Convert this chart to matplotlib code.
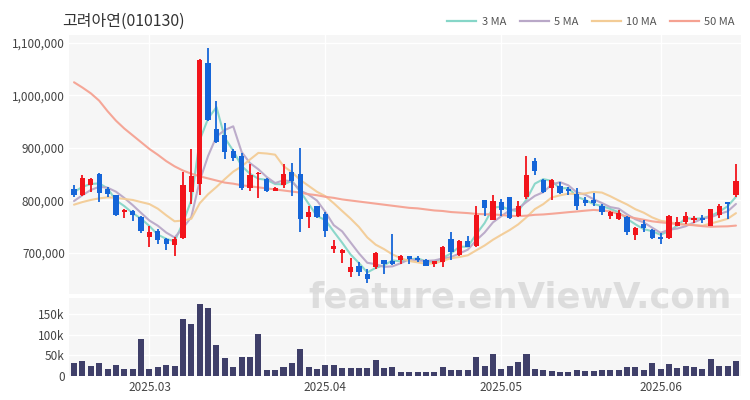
import matplotlib
matplotlib.use("Agg")
import matplotlib.pyplot as plt
import numpy as np
from matplotlib.lines import Line2D
from matplotlib.ticker import FuncFormatter

plt.rcParams['font.family'] = ['Noto Sans CJK KR', 'DejaVu Sans']

title = "고려아연(010130)"

# OHLC in thousands of KRW (one entry per trading day)
opens = [822, 811, 830, 851, 822, 810, 778, 780, 769, 730, 742, 727, 716, 729, 816, 832, 1062, 936, 925, 895,
         884, 824, 850, 840, 819, 829, 854, 850, 768, 789, 775, 707, 700, 663, 676, 660, 673, 686, 684, 686,
         694, 690, 687, 679, 683, 726, 697, 722, 713, 800, 763, 798, 806, 770, 806, 876, 839, 824, 827, 822,
         813, 800, 801, 790, 771, 765, 768, 735, 756, 744, 731, 729, 752, 759, 762, 766, 752, 773, 797, 810]
highs = [830, 848, 843, 852, 825, 811, 783, 781, 770, 752, 746, 729, 730, 854, 898, 1070, 1091, 990, 947, 898,
         890, 870, 854, 843, 826, 869, 871, 900, 790, 790, 778, 724, 708, 690, 683, 670, 701, 687, 737, 697,
         695, 695, 688, 685, 714, 740, 724, 733, 790, 801, 810, 803, 807, 799, 884, 881, 840, 841, 835, 825,
         824, 806, 814, 794, 780, 782, 770, 750, 762, 746, 738, 773, 768, 778, 771, 773, 784, 794, 797, 870]
lows = [806, 809, 816, 798, 807, 771, 766, 761, 739, 711, 717, 705, 695, 727, 794, 810, 952, 910, 879, 876,
        820, 819, 805, 816, 818, 824, 808, 740, 748, 766, 731, 700, 681, 654, 656, 642, 670, 661, 678, 679,
        680, 683, 675, 674, 674, 686, 695, 711, 712, 771, 762, 771, 765, 768, 803, 848, 814, 801, 813, 810,
        782, 789, 789, 773, 765, 763, 735, 725, 740, 727, 717, 727, 751, 756, 757, 757, 751, 767, 765, 806]
closes = [811, 842, 841, 815, 813, 773, 782, 773, 741, 740, 724, 717, 726, 830, 846, 1068, 954, 911, 892, 881,
          824, 848, 852, 818, 824, 850, 838, 764, 779, 768, 741, 713, 705, 674, 664, 651, 700, 679, 679, 694,
          689, 687, 676, 684, 712, 702, 722, 712, 773, 786, 799, 781, 767, 790, 849, 857, 816, 839, 814, 818,
          790, 795, 795, 778, 779, 776, 740, 748, 748, 729, 727, 770, 759, 770, 766, 763, 783, 790, 794, 837]
# volume in thousands of shares
volumes = [31, 36.6, 22.8, 30.9, 17, 25.2, 15.4, 15.4, 90, 15.4, 21, 25.2, 22.8, 139, 127, 174, 166, 74, 43, 21,
           45.5, 45.5, 102, 14.6, 14.6, 21, 30, 66, 21, 15.4, 26.8, 25.2, 17.9, 17.9, 17.9, 17.9, 39, 17.9, 20.3, 9.8,
           8, 8, 8, 8, 21, 14.6, 14.6, 13, 45.5, 24.4, 52, 15.4, 24.4, 33, 53.7, 17, 14.6, 12.2, 9.8, 9.8,
           13.8, 11.4, 11.4, 13, 13, 14.6, 21, 21, 14.6, 30, 17, 28.5, 18.7, 22.8, 21, 17, 41.5, 22.8, 23.6, 35]

# moving-average values for the first days (window reaches before the shown range)
ma3_early = [816, 826]
ma5_early = [799, 810, 820, 826]
ma10_early = [792, 797, 801, 804, 806, 805, 803, 801, 797]
ma50_early = [1025, 1015, 1004, 990, 970, 952, 937, 924, 911, 898, 887, 875, 865, 857, 851, 846, 842, 838, 834, 832,
              829, 827, 825, 823, 821, 819, 817, 815, 812, 810, 807, 805, 802, 800, 798, 796, 794, 792, 790, 788,
              786, 785, 783, 781, 780, 778, 777, 776, 774.5]

tick_idx = [9, 30, 51, 70]
tick_labels = ["2025.03", "2025.04", "2025.05", "2025.06"]

ma_names = ["3 MA", "5 MA", "10 MA", "50 MA"]
ma_colors = ["#86d6c8", "#b9a8c8", "#f3cc96", "#f5a292"]


def moving(vals, n, early):
    vals = np.asarray(vals, float)
    out = list(early)
    for i in range(len(early), len(vals)):
        out.append(vals[i - n + 1:i + 1].mean())
    return np.array(out)


o = np.array(opens) * 1000
h = np.array(highs) * 1000
l = np.array(lows) * 1000
c = np.array(closes) * 1000
v = np.array(volumes) * 1000
x = np.arange(len(c))

mas = [moving(c, 3, np.array(ma3_early) * 1000),
       moving(c, 5, np.array(ma5_early) * 1000),
       moving(c, 10, np.array(ma10_early) * 1000),
       moving(c, 50, np.array(ma50_early) * 1000)]

W, H = 750, 400
fig = plt.figure(figsize=(7.5, 4.0), dpi=100)
bg = "#f6f6f6"

ax = fig.add_axes([69 / W, 1 - 294 / H, (741 - 69) / W, (294 - 35) / H])
axv = fig.add_axes([69 / W, 1 - 377 / H, (741 - 69) / W, (377 - 298) / H], sharex=ax)

for a in (ax, axv):
    a.set_facecolor(bg)
    for s in a.spines.values():
        s.set_visible(False)
    a.tick_params(length=0, colors="#444444", labelsize=8.5)
    a.grid(True, color="white", linewidth=1.0)
    a.set_axisbelow(True)

up_col = "#f2141b"
dn_col = "#1565d8"
for i in range(len(c)):
    col = up_col if c[i] >= o[i] else dn_col
    ax.vlines(x[i], l[i], h[i], color=col, linewidth=1.3, zorder=3)
    lo, hi = min(o[i], c[i]), max(o[i], c[i])
    if hi - lo < 2500:
        mid = (hi + lo) / 2
        lo, hi = mid - 1250, mid + 1250
    ax.bar(x[i], hi - lo, bottom=lo, width=0.62, color=col, zorder=3, linewidth=0)

for m, col in zip(mas, ma_colors):
    ax.plot(x, m, color=col, linewidth=1.5, zorder=2, alpha=0.95, solid_capstyle="round")

ax.set_xlim(-0.6, len(c) - 0.4)
ax.set_ylim(622000, 1115000)
ax.set_yticks([700000, 800000, 900000, 1000000, 1100000])
ax.yaxis.set_major_formatter(FuncFormatter(lambda val, p: f"{int(val):,}"))
ax.tick_params(axis="x", labelbottom=False)
ax.set_xticks(tick_idx)

axv.bar(x, v, width=0.72, color="#3f3f69", zorder=3, linewidth=0)
axv.set_ylim(-3200, 189500)
axv.set_yticks([0, 50000, 100000, 150000])
axv.yaxis.set_major_formatter(FuncFormatter(lambda val, p: "0" if val == 0 else f"{int(val / 1000)}k"))
axv.set_xticks(tick_idx)
axv.set_xticklabels(tick_labels)
axv.tick_params(axis="x", pad=3)
axv.tick_params(axis="y", pad=3)
ax.tick_params(axis="y", pad=3)

fig.text(62 / W, 1 - 21 / H, title, fontsize=11.5, color="#333333", va="center", ha="left")

handles = [Line2D([0], [0], color=col, linewidth=1.6) for col in ma_colors]
fig.legend(handles, ma_names, loc="center right", bbox_to_anchor=(745 / W, 1 - 22 / H), ncol=4,
           frameon=False, fontsize=8, handlelength=2.6, columnspacing=1.2, handletextpad=0.5,
           labelcolor="#555555")

fig.text(520 / W, 1 - 298 / H, "feature.enViewV.com", fontsize=25.5, color="#c4c4c4", alpha=0.5,
         ha="center", va="center", family="DejaVu Sans", fontweight="bold", zorder=10)

fig.savefig("out.png", dpi=100, facecolor="white")
